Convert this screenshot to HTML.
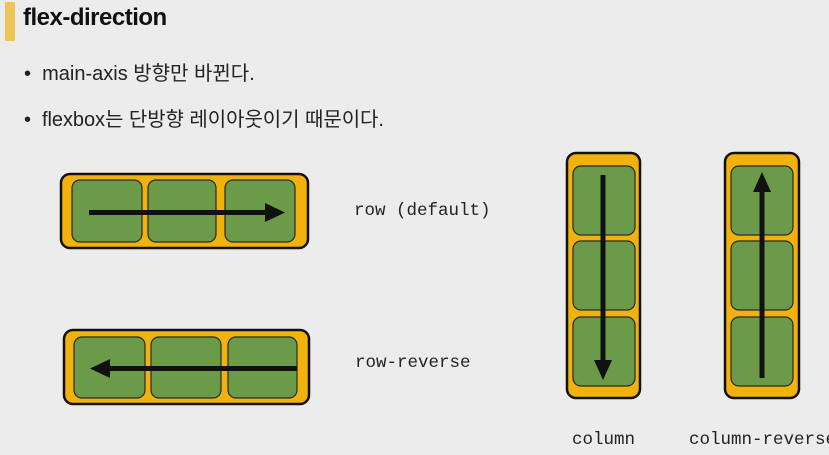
<!DOCTYPE html>
<html><head><meta charset="utf-8"><style>
body{margin:0;width:829px;height:455px;background:#ececec;overflow:hidden;position:relative;font-family:"Liberation Sans","Noto Sans CJK KR",sans-serif}
.t{position:absolute;white-space:nowrap}
.m{font-family:"Liberation Mono","DejaVu Sans Mono",monospace;font-size:17.5px;color:#222}
</style></head><body>
<div style="position:absolute;left:5px;top:2px;width:10px;height:39px;background:#f0c557"></div>
<div class="t" style="left:23px;top:4px;font-size:24px;font-weight:bold;color:#111;letter-spacing:-0.5px">flex-direction</div>
<div class="t" style="left:24px;top:57px;font-size:20px;color:#222">•&nbsp;&nbsp;main-axis 방향만 바뀐다.</div>
<div class="t" style="left:24px;top:103px;font-size:20px;color:#222;letter-spacing:-0.05px">•&nbsp;&nbsp;flexbox는 단방향 레이아웃이기 때문이다.</div>
<svg width="829" height="455" style="position:absolute;left:0;top:0">
<g stroke="#111" stroke-width="2.5" fill="#f2b20e">
<rect x="61" y="174" width="247" height="74" rx="9"/>
<rect x="64" y="330" width="245" height="74" rx="9"/>
<rect x="567" y="153" width="73" height="245" rx="9"/>
<rect x="725" y="153" width="74" height="245" rx="9"/>
</g>
<g stroke="#2a2a2a" stroke-width="1.2" fill="#6b9a48">
<rect x="72" y="180" width="70" height="62" rx="8"/>
<rect x="148" y="180" width="68" height="62" rx="8"/>
<rect x="225" y="180" width="70" height="62" rx="8"/>
<rect x="74" y="337" width="71" height="61" rx="8"/>
<rect x="151" y="337" width="70" height="61" rx="8"/>
<rect x="228" y="337" width="69" height="61" rx="8"/>
<rect x="573" y="166" width="62" height="69" rx="8"/>
<rect x="573" y="241" width="62" height="69" rx="8"/>
<rect x="573" y="317" width="62" height="69" rx="8"/>
<rect x="731" y="166" width="62" height="69" rx="8"/>
<rect x="731" y="241" width="62" height="69" rx="8"/>
<rect x="731" y="317" width="62" height="69" rx="8"/>
</g>
<g fill="#111">
<rect x="89" y="210" width="180" height="5"/><polygon points="265,203 285,212.5 265,222"/>
<rect x="108" y="366" width="189" height="5"/><polygon points="110,359 90,368.5 110,378"/>
<rect x="600.5" y="175" width="5" height="190" /><polygon points="594,360 603,380 612,360"/>
<rect x="759.5" y="188" width="5" height="190"/><polygon points="753,192 762,172 771,192"/>
</g>
</svg>
<div class="t m" style="left:354px;top:201px">row (default)</div>
<div class="t m" style="left:355px;top:353px">row-reverse</div>
<div class="t m" style="left:572px;top:430px">column</div>
<div class="t m" style="left:689px;top:430px">column-reverse</div>
</body></html>
